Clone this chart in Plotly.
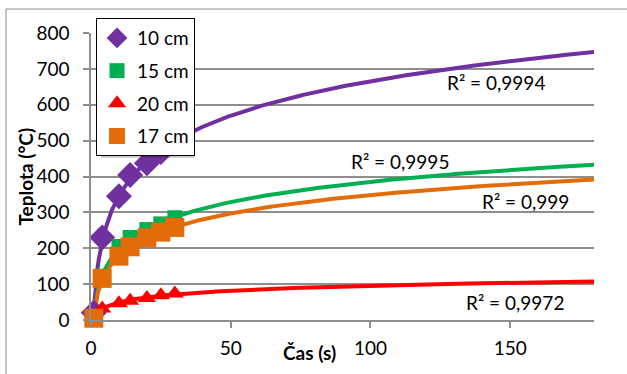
import numpy as np
import plotly.graph_objects as go

# ---- data ----
time_s = [1, 4, 10, 14, 20, 25, 30]
temp_10cm = [20, 230, 345, 404, 437, 468, 497]
temp_15cm = [8, 122, 205, 230, 252, 268, 285]
temp_20cm = [3, 32, 47, 54, 61, 69, 74]
temp_17cm = [5, 116, 178, 204, 229, 245, 258]

series_names = ["10 cm", "15 cm", "20 cm", "17 cm"]
series_colors = ["#7030A0", "#00B050", "#FF0000", "#E36C09"]
series_symbols = ["diamond", "square", "triangle-up", "square"]
series_sizes = [20, 15, 16, 19]
r2_labels = ["R² = 0,9994", "R² = 0,9995", "R² = 0,9972", "R² = 0,999"]
r2_pos = [(145, 663), (110.7, 443), (151.8, 50), (155.4, 329)]

x_ticks = [0, 50, 100, 150]
y_ticks = [0, 100, 200, 300, 400, 500, 600, 700, 800]
x_max = 180

series = [temp_10cm, temp_15cm, temp_20cm, temp_17cm]

FONT = "Lato"
FS = 19
GRID = "#8e8e8e"

fig = go.Figure()

# trendlines (logarithmic fits, like Excel) drawn under markers
xt = np.linspace(min(time_s), x_max, 400)
lx = np.log(np.array(time_s, dtype=float))
for name, ys, col in zip(series_names, series, series_colors):
    a, b = np.polyfit(lx, np.array(ys, dtype=float), 1)
    fig.add_trace(go.Scatter(x=xt, y=a * np.log(xt) + b, mode="lines",
                             line=dict(color=col, width=4),
                             showlegend=False, hoverinfo="skip"))

order = [0, 2, 1, 3]
for i in order:
    fig.add_trace(go.Scatter(x=time_s, y=series[i], mode="markers",
                             name=series_names[i],
                             legendgroup=series_names[i],
                             legendrank=i,
                             marker=dict(symbol=series_symbols[i], size=series_sizes[i],
                                         color=series_colors[i], line=dict(width=0)),
                             cliponaxis=False))

for (tx, ty), txt in zip(r2_pos, r2_labels):
    fig.add_annotation(x=tx, y=ty, text=txt, showarrow=False,
                       xanchor="center", yanchor="middle",
                       font=dict(family=FONT, size=FS, color="#000000"))

# axis titles (placed as in the reference)
fig.add_annotation(xref="paper", yref="paper", x=-0.131, y=0.5, text="<b>Teplota (°C)</b>",
                   textangle=-90, showarrow=False, xanchor="center", yanchor="middle",
                   font=dict(family=FONT, size=FS, color="#000"))
fig.add_annotation(xref="paper", yref="paper", x=0.435, y=-0.1115, text="<b>Čas (s)</b>",
                   showarrow=False, xanchor="center", yanchor="middle",
                   font=dict(family=FONT, size=FS, color="#000"))

# outer chart border
fig.add_shape(type="rect", xref="paper", yref="paper", x0=-0.169, y0=-0.25, x1=1.2, y1=1.0836,
              line=dict(color="#8a8a8a", width=1), layer="below")
# soft drop shadow behind the legend box
fig.add_shape(type="rect", xref="paper", yref="paper", x0=0.02, y0=0.565, x1=0.205, y1=1.045,
              line=dict(width=0), fillcolor="rgba(0,0,0,0.22)", layer="above")

fig.update_layout(
    width=627, height=374,
    margin=dict(l=91, r=33, t=33, b=54),
    paper_bgcolor="white", plot_bgcolor="white",
    font=dict(family=FONT, size=FS, color="#000"),
    showlegend=True,
    legend=dict(x=0.01, y=1.052, xanchor="left", yanchor="top",
                bgcolor="white", bordercolor="#000", borderwidth=1,
                traceorder="grouped", tracegroupgap=5, itemwidth=30,
                font=dict(family=FONT, size=FS)),
)
fig.update_xaxes(range=[0, x_max], tickvals=x_ticks, showgrid=False, zeroline=False,
                 showline=True, linecolor=GRID, linewidth=1.5,
                 ticks="outside", ticklen=6, tickcolor=GRID, tickwidth=1.5,
                 ticklabelstandoff=4)
fig.update_yaxes(range=[0, 800], tickvals=y_ticks, showgrid=True, gridcolor=GRID, gridwidth=1.5,
                 zeroline=False, showline=True, linecolor=GRID, linewidth=1.5,
                 ticks="outside", ticklen=6, tickcolor=GRID, tickwidth=1.5,
                 ticklabelstandoff=10)

fig.write_html("out.html")
